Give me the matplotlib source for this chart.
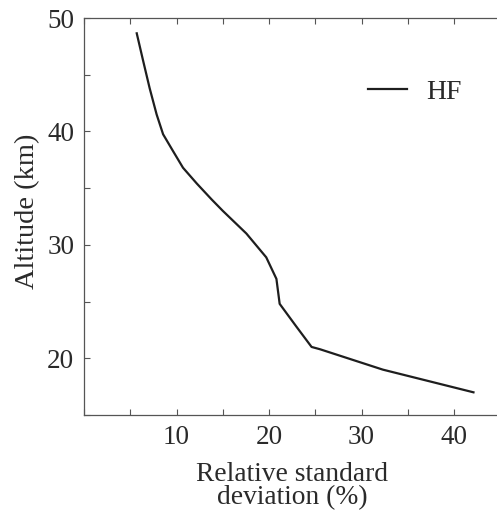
import matplotlib
matplotlib.use("Agg")
import matplotlib.pyplot as plt
from matplotlib.ticker import MultipleLocator

# Data
rsd = [5.7, 6.4, 7.1, 7.85, 8.55, 9.6, 10.7, 12.2, 13.8, 15.0, 17.55, 19.7,
       20.8, 21.15, 22.95, 24.6, 25.5, 32.3, 42.1]
altitude = [48.65, 46.2, 43.8, 41.5, 39.75, 38.3, 36.8, 35.4, 34.0, 33.0, 31.0, 28.9,
            27.0, 24.8, 22.8, 21.0, 20.8, 19.0, 17.0]
series_label = "HF"
xticks = [10, 20, 30, 40]
yticks = [20, 30, 40, 50]

plt.rcParams['font.family'] = ['Liberation Serif', 'DejaVu Serif']
plt.rcParams['mathtext.fontset'] = 'stix'

fig = plt.figure(figsize=(4.97, 5.18), dpi=100)
ax = fig.add_axes([84/497, 1-415/518, 420/497, (415-18)/518])

txt = '#2a2a2a'
ax.plot(rsd, altitude, color='#1e1e1e', lw=1.6, label=series_label)
ax.set_xlim(0, 45.4)
ax.set_ylim(15, 50)
ax.set_xticks(xticks)
ax.set_yticks(yticks)
ax.xaxis.set_minor_locator(MultipleLocator(5))
ax.yaxis.set_minor_locator(MultipleLocator(5))
ax.tick_params(which='both', direction='in', top=True, right=False, length=4,
               width=0.8, color='#555555', labelsize=19.5, labelcolor=txt, pad=7)
for s in ax.spines.values():
    s.set_color('#555555')
    s.set_linewidth(0.9)
ax.spines['right'].set_visible(False)

ax.set_ylabel('Altitude (km)', fontsize=20.5, color=txt)
ax.yaxis.set_label_coords((28-84)/420, (415-211)/397, transform=ax.transAxes)
ax.yaxis.label.set_va('center')
ax.set_xlabel('Relative standard\ndeviation (%)', fontsize=19.8, color=txt,
              linespacing=0.92)
ax.xaxis.set_label_coords((292-84)/420, (415-462)/397, transform=ax.transAxes)

leg = ax.legend(loc='center left', bbox_to_anchor=(368/497, 1-92/518),
                bbox_transform=fig.transFigure, frameon=False, fontsize=20,
                handlelength=1.4, handletextpad=0.7, borderpad=0, borderaxespad=0)
for t in leg.get_texts():
    t.set_color(txt)

fig.savefig('out.png', dpi=100)
